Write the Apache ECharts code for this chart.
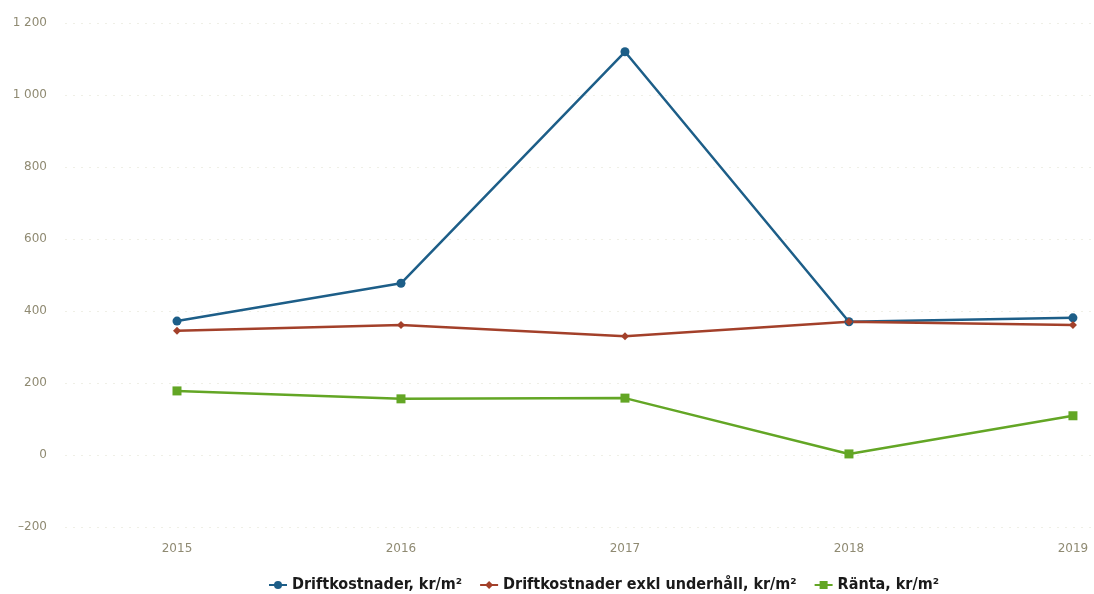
<!DOCTYPE html>
<html><head><meta charset="utf-8">
<script src="https://cdn.jsdelivr.net/npm/echarts@6/dist/echarts.min.js"></script>
<style>html,body{margin:0;padding:0;background:#fff}#c{width:1094px;height:594px}</style>
</head><body><div id="c"></div>
<script>
const years = [2015, 2016, 2017, 2018, 2019];
const drift = [372, 477, 1120, 370, 381];
const driftExkl = [345, 361, 330, 370, 361];
const ranta = [178, 156, 158, 3, 109];
const yTicks = [-200, 0, 200, 400, 600, 800, 1000, 1200];

const pairs = arr => years.map((y, i) => [y, arr[i]]);
const fmt = v => String(v).replace(/\B(?=(\d{3})+(?!\d))/g, ' ').replace('-', '\u2013');

const chart = echarts.init(document.getElementById('c'));
chart.setOption({
  animation: false,
  backgroundColor: '#fff',
  grid: { left: 65, right: 0, top: 23, bottom: 67 },
  xAxis: {
    type: 'value', min: 2014.5, max: 2019.094,
    axisLine: { show: false }, axisTick: { show: false }, splitLine: { show: false },
    axisLabel: { color: '#8f8a72', fontSize: 12, fontFamily: 'DejaVu Sans', margin: 16,
      showMinLabel: false, showMaxLabel: false,
      formatter: v => Number.isInteger(v) && years.includes(v) ? String(v) : '' }
  },
  yAxis: {
    type: 'value', min: yTicks[0], max: yTicks[yTicks.length - 1], interval: 200,
    axisLine: { show: false }, axisTick: { show: false },
    splitLine: { lineStyle: { color: '#efefe6', type: [2, 6], width: 1 } },
    axisLabel: { color: '#8f8a72', fontSize: 12, fontFamily: 'DejaVu Sans', margin: 18, formatter: fmt }
  },
  legend: {
    top: 572, left: 263, itemGap: 17, itemWidth: 18, itemHeight: 10,
    textStyle: { color: '#1a1a1a', fontSize: 16, fontWeight: 'bold', fontFamily: '"DejaVu Sans Condensed", "Liberation Sans Narrow", "Open Sans", sans-serif' }
  },
  series: [
    { name: 'Driftkostnader, kr/m²', type: 'line', data: pairs(drift),
      color: '#1d5e88', symbol: 'circle', symbolSize: 9, lineStyle: { width: 2.5 } },
    { name: 'Driftkostnader exkl underhåll, kr/m²', type: 'line', data: pairs(driftExkl),
      color: '#a3402a', symbol: 'diamond', symbolSize: 8, lineStyle: { width: 2.5 } },
    { name: 'Ränta, kr/m²', type: 'line', data: pairs(ranta),
      color: '#63a625', symbol: 'rect', symbolSize: 9, lineStyle: { width: 2.5 } }
  ]
});
</script></body></html>
